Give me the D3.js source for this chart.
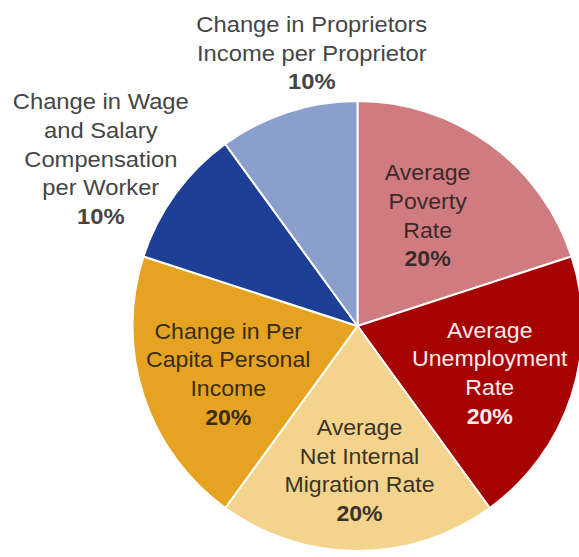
<!DOCTYPE html>
<html>
<head>
<meta charset="utf-8">
<script src="https://cdn.jsdelivr.net/npm/d3@7"></script>
<style>
  body { margin: 0; background: #fff; }
  svg { display: block; }
  .lbl { font-family: "Liberation Sans", Arial, Helvetica, sans-serif; font-size: 22px; }
</style>
</head>
<body>
<div id="chart"></div>
<script>
// données du graphique
var categories = [
  "Average Poverty Rate",
  "Average Unemployment Rate",
  "Average Net Internal Migration Rate",
  "Change in Per Capita Personal Income",
  "Change in Wage and Salary Compensation per Worker",
  "Change in Proprietors Income per Proprietor"
];
var weights = [20, 20, 20, 20, 10, 10];
var labelLines = [
  ["Average", "Poverty", "Rate"],
  ["Average", "Unemployment", "Rate"],
  ["Average", "Net Internal", "Migration Rate"],
  ["Change in Per", "Capita Personal", "Income"],
  ["Change in Wage", "and Salary", "Compensation", "per Worker"],
  ["Change in Proprietors", "Income per Proprietor"]
];

var colors = ["#cf7b7f", "#a60202", "#f4d48c", "#e6a322", "#1d3f95", "#8b9fce"];
var textColors = ["#3a2b2b", "#fbeaea", "#3b3326", "#3a2c12", "#454545", "#454545"];
var outside = [false, false, false, false, true, true];
// petit décalage manuel des étiquettes
var nudge = [[-11, 1], [1, 4], [2, 6], [2, 5], [-14, 9], [47, 12]];

var width = 579, height = 557;
var cx = 357.5, cy = 326, radius = 225;
var lineH = 28.7, capH = 16;

var svg = d3.select("#chart")
  .append("svg")
  .attr("width", width)
  .attr("height", height);

var g = svg.append("g")
  .attr("transform", "translate(" + cx + "," + cy + ")");

var pie = d3.pie().sort(null).value(function(d) { return d; });
var arcs = pie(weights);

var arc = d3.arc().innerRadius(0).outerRadius(radius);
var innerLabelArc = d3.arc().innerRadius(276).outerRadius(0);
var outerLabelArc = d3.arc().innerRadius(600).outerRadius(0);

g.selectAll(".slice")
  .data(arcs)
  .enter().append("path")
  .attr("class", "slice")
  .attr("d", arc)
  .attr("fill", function(d, i) { return colors[i]; })
  .attr("stroke", "#fff")
  .attr("stroke-width", 2)
  .attr("stroke-linejoin", "round");

var labels = g.selectAll(".lbl")
  .data(arcs)
  .enter().append("text")
  .attr("class", "lbl")
  .attr("text-anchor", "middle")
  .attr("fill", function(d, i) { return textColors[i]; })
  .attr("transform", function(d, i) {
    var c = (outside[i] ? outerLabelArc : innerLabelArc).centroid(d);
    var n = labelLines[i].length + 1;
    var y0 = c[1] + nudge[i][1] - ((n - 1) * lineH - capH) / 2;
    var stretch = outside[i] ? 1.08 : 1.05;
    return "translate(" + (c[0] + nudge[i][0]) + "," + y0 + ") scale(" + stretch + ",1)";
  });

labels.each(function(d, i) {
  var t = d3.select(this);
  labelLines[i].forEach(function(line, k) {
    t.append("tspan").attr("x", 0).attr("y", k * lineH).text(line);
  });
  t.append("tspan")
    .attr("x", 0)
    .attr("y", labelLines[i].length * lineH)
    .attr("font-weight", "bold")
    .text(weights[i] + "%");
});
</script>
</body>
</html>
